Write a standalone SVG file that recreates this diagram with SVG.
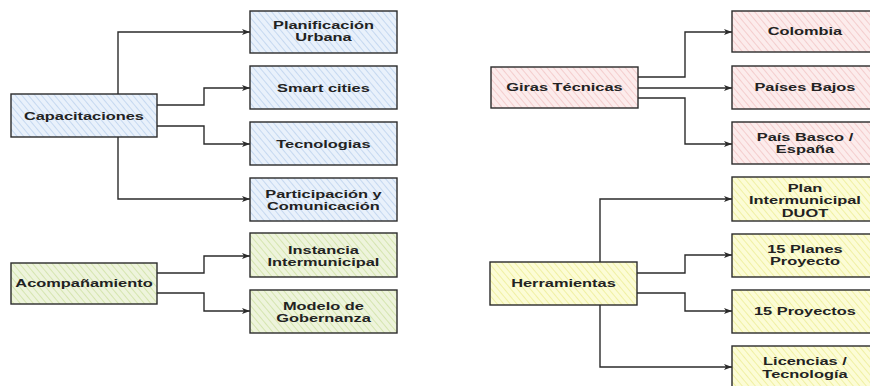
<svg xmlns="http://www.w3.org/2000/svg" width="870" height="386" viewBox="0 0 870 386">
<style>
.box{stroke:#2b2b2b;stroke-width:1.4}
.t{font-family:"Liberation Sans",Arial,sans-serif;font-weight:bold;font-size:11px;fill:#222;text-anchor:middle;transform-box:fill-box;transform-origin:center;transform:scaleX(1.49)}
.c{fill:none;stroke:#2b2b2b;stroke-width:1.4;stroke-linejoin:miter}
</style>
<defs>
<pattern id="hb" width="5" height="5" patternUnits="userSpaceOnUse" patternTransform="rotate(-40)"><rect width="5" height="5" fill="#e9f1fb"/><line x1="0" y1="0" x2="0" y2="5" stroke="#bcd2ee" stroke-width="1.6"/></pattern>
<pattern id="hg" width="5" height="5" patternUnits="userSpaceOnUse" patternTransform="rotate(-40)"><rect width="5" height="5" fill="#eef4dc"/><line x1="0" y1="0" x2="0" y2="5" stroke="#cfe2a4" stroke-width="1.6"/></pattern>
<pattern id="hp" width="5" height="5" patternUnits="userSpaceOnUse" patternTransform="rotate(-40)"><rect width="5" height="5" fill="#fcecec"/><line x1="0" y1="0" x2="0" y2="5" stroke="#f2c6c6" stroke-width="1.6"/></pattern>
<pattern id="hy" width="5" height="5" patternUnits="userSpaceOnUse" patternTransform="rotate(-40)"><rect width="5" height="5" fill="#fcfcd6"/><line x1="0" y1="0" x2="0" y2="5" stroke="#eeee96" stroke-width="1.6"/></pattern>
<marker id="ar" markerWidth="9" markerHeight="8" refX="8" refY="4" orient="auto" markerUnits="userSpaceOnUse"><path d="M0,1 L8,4 L0,7 L2,4 Z" fill="#2b2b2b"/></marker>
</defs>

<g id="connectors">
<path class="c" marker-end="url(#ar)" d="M118,94 V32 H250"/>
<path class="c" marker-end="url(#ar)" d="M157,105 H204 V88 H250"/>
<path class="c" marker-end="url(#ar)" d="M157,126 H204 V144 H250"/>
<path class="c" marker-end="url(#ar)" d="M118,137 V199 H250"/>
<path class="c" marker-end="url(#ar)" d="M157,273 H204 V256 H250"/>
<path class="c" marker-end="url(#ar)" d="M157,293 H204 V311 H250"/>
<path class="c" marker-end="url(#ar)" d="M638,77 H685 V32 H732"/>
<path class="c" marker-end="url(#ar)" d="M638,88 H732"/>
<path class="c" marker-end="url(#ar)" d="M638,98 H685 V144 H732"/>
<path class="c" marker-end="url(#ar)" d="M600,262 V199 H732"/>
<path class="c" marker-end="url(#ar)" d="M637,273 H685 V255 H732"/>
<path class="c" marker-end="url(#ar)" d="M637,293 H685 V311 H732"/>
<path class="c" marker-end="url(#ar)" d="M600,305 V367 H732"/>
</g>

<g id="capacitaciones"><rect class="box" x="11" y="94" width="146" height="43" fill="url(#hb)"/><text class="t" x="84" y="120">Capacitaciones</text></g>
<g id="planificacion"><rect class="box" x="250" y="11" width="147" height="42" fill="url(#hb)"/><text class="t" x="323.5" y="28.9"><tspan x="323.5">Planificación</tspan><tspan x="323.5" y="41.2">Urbana</tspan></text></g>
<g id="smart"><rect class="box" x="250" y="66" width="147" height="43" fill="url(#hb)"/><text class="t" x="323.5" y="91.6">Smart cities</text></g>
<g id="tecnologias"><rect class="box" x="250" y="122" width="147" height="43" fill="url(#hb)"/><text class="t" x="323.5" y="147.6">Tecnologias</text></g>
<g id="participacion"><rect class="box" x="250" y="178" width="147" height="43" fill="url(#hb)"/><text class="t" x="323.5" y="197.9"><tspan x="323.5">Participación y</tspan><tspan x="323.5" y="210.2">Comunicación</tspan></text></g>

<g id="acompanamiento"><rect class="box" x="11" y="263" width="146" height="41" fill="url(#hg)"/><text class="t" x="84" y="287.2">Acompañamiento</text></g>
<g id="instancia"><rect class="box" x="250" y="233" width="147" height="44" fill="url(#hg)"/><text class="t" x="323.5" y="253.6"><tspan x="323.5">Instancia</tspan><tspan x="323.5" y="265.9">Intermunicipal</tspan></text></g>
<g id="modelo"><rect class="box" x="250" y="290" width="147" height="43" fill="url(#hg)"/><text class="t" x="323.5" y="309.9"><tspan x="323.5">Modelo de</tspan><tspan x="323.5" y="322.2">Gobernanza</tspan></text></g>

<g id="giras"><rect class="box" x="491" y="67" width="147" height="41" fill="url(#hp)"/><text class="t" x="564.5" y="91.2">Giras Técnicas</text></g>
<g id="colombia"><rect class="box" x="732" y="11" width="148" height="41" fill="url(#hp)"/><text class="t" x="805" y="35.2">Colombia</text></g>
<g id="paises-bajos"><rect class="box" x="732" y="66" width="148" height="43" fill="url(#hp)"/><text class="t" x="805" y="91.2">Países Bajos</text></g>
<g id="pais-basco"><rect class="box" x="732" y="122" width="148" height="42" fill="url(#hp)"/><text class="t" x="805" y="140.9"><tspan x="805">País Basco /</tspan><tspan x="805" y="153.2">España</tspan></text></g>

<g id="herramientas"><rect class="box" x="490" y="262" width="147" height="43" fill="url(#hy)"/><text class="t" x="563.5" y="287.2">Herramientas</text></g>
<g id="plan-duot"><rect class="box" x="732" y="177" width="148" height="44" fill="url(#hy)"/><text class="t" x="805" y="192"><tspan x="805">Plan</tspan><tspan x="805" y="204.3">Intermunicipal</tspan><tspan x="805" y="216.6">DUOT</tspan></text></g>
<g id="planes-proyecto"><rect class="box" x="732" y="234" width="148" height="43" fill="url(#hy)"/><text class="t" x="805" y="253.1"><tspan x="805">15 Planes</tspan><tspan x="805" y="265.4">Proyecto</tspan></text></g>
<g id="proyectos"><rect class="box" x="732" y="290" width="148" height="43" fill="url(#hy)"/><text class="t" x="805" y="315.2">15 Proyectos</text></g>
<g id="licencias"><rect class="box" x="732" y="346" width="148" height="44" fill="url(#hy)"/><text class="t" x="805" y="365.4"><tspan x="805">Licencias /</tspan><tspan x="805" y="377.7">Tecnología</tspan></text></g>
</svg>
